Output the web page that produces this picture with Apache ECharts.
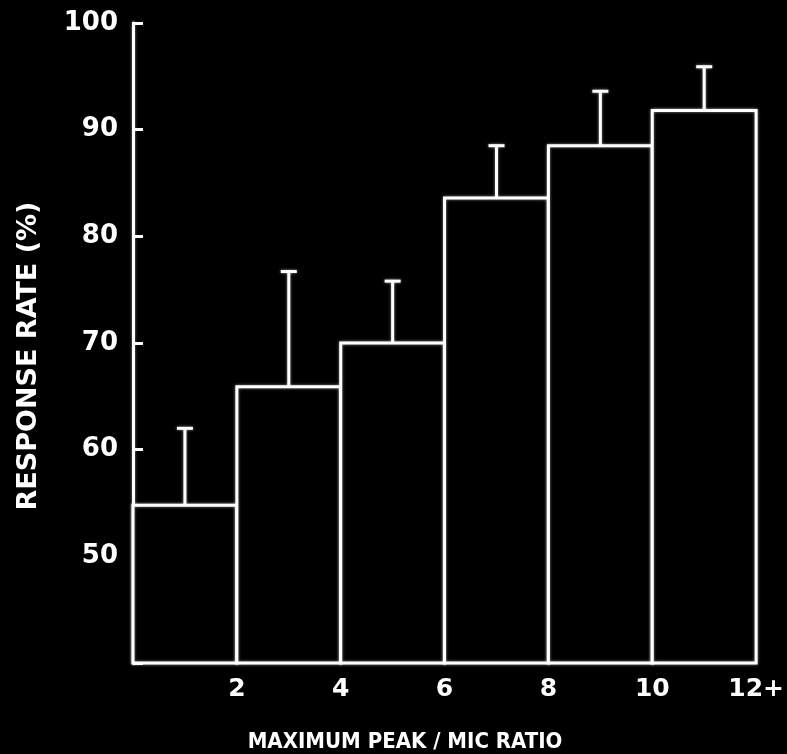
<!DOCTYPE html>
<html>
<head>
<meta charset="utf-8">
<script src="https://cdn.jsdelivr.net/npm/echarts@6/dist/echarts.min.js"></script>
<style>
  html, body { margin: 0; padding: 0; background: #000; }
  #chart { width: 787px; height: 754px; }
</style>
</head>
<body>
<div id="chart"></div>
<script>
// Peak/MIC ratio bins (lower edge of each 2-wide bin)
const binStarts = [0, 2, 4, 6, 8, 10];
const binWidth = 2;
// Response rate (%) per bin and top of its error bar
const responseRate = [54.8, 65.9, 70.0, 83.6, 88.5, 91.8];
const errorTop = [62.0, 76.7, 75.8, 88.5, 93.6, 95.9];
// Axis tick labels
const xTickLabels = { 0: '', 2: '2', 4: '4', 6: '6', 8: '8', 10: '10', 12: '12+' };
const xTitle = 'MAXIMUM PEAK / MIC RATIO';
const yTitle = 'RESPONSE RATE (%)';

const font = 'DejaVu Sans';
const glow = { shadowColor: 'rgba(255,255,255,0.55)', shadowBlur: 3 };

const data = binStarts.map((x, i) => [x, responseRate[i], errorTop[i]]);

function renderBar(params, api) {
  const x0 = api.value(0);
  const v = api.value(1);
  const e = api.value(2);
  const base = api.coord([x0, 40]);
  const topLeft = api.coord([x0, v]);
  const topRight = api.coord([x0 + binWidth, v]);
  const mid = api.coord([x0 + binWidth / 2, v]);
  const cap = api.coord([x0 + binWidth / 2, e]);
  const lineStyle = Object.assign({ stroke: '#fff', lineWidth: 3 }, glow);
  return {
    type: 'group',
    children: [
      {
        type: 'rect',
        shape: { x: topLeft[0], y: topLeft[1], width: topRight[0] - topLeft[0], height: base[1] - topLeft[1] },
        style: Object.assign({ fill: '#000' }, lineStyle)
      },
      {
        type: 'line',
        shape: { x1: mid[0], y1: mid[1], x2: cap[0], y2: cap[1] },
        style: lineStyle
      },
      {
        type: 'line',
        shape: { x1: cap[0] - 8, y1: cap[1], x2: cap[0] + 8, y2: cap[1] },
        style: lineStyle
      }
    ]
  };
}

const chart = echarts.init(document.getElementById('chart'));
chart.setOption({
  backgroundColor: '#000',
  animation: false,
  title: {
    text: xTitle,
    left: 400,
    textAlign: 'center',
    top: 726,
    textStyle: { color: '#fff', fontFamily: 'DejaVu Sans Condensed, DejaVu Sans', fontSize: 22, fontWeight: 'bold' }
  },
  graphic: [{
    type: 'text',
    x: 29,
    y: 356,
    rotation: Math.PI / 2,
    style: {
      text: yTitle,
      fill: '#fff',
      font: 'bold 27px "DejaVu Sans"',
      align: 'center',
      verticalAlign: 'middle'
    }
  }],
  grid: { left: 133, right: 25, top: 23, bottom: 91 },
  xAxis: {
    type: 'value',
    min: 0, max: 12, interval: 2,
    axisLine: { show: false },
    axisTick: { show: false },
    splitLine: { show: false },
    axisLabel: {
      color: '#fff', fontFamily: font, fontSize: 25, fontWeight: 'bold', margin: 14,
      formatter: v => xTickLabels[v] ?? ''
    }
  },
  yAxis: {
    type: 'value',
    min: 40, max: 100, interval: 10,
    offset: 3,
    axisLine: { show: true, lineStyle: Object.assign({ color: '#fff', width: 3 }, glow) },
    axisTick: { show: true, inside: true, length: 10, lineStyle: { color: '#fff', width: 3 } },
    splitLine: { show: false },
    axisLabel: {
      color: '#fff', fontFamily: font, fontSize: 26, fontWeight: 'bold', margin: 12,
      formatter: v => (v === 40 ? '' : String(v))
    }
  },
  series: [{
    type: 'custom',
    renderItem: renderBar,
    data: data,
    encode: { x: 0, y: [1, 2] }
  }]
});
</script>
</body>
</html>
